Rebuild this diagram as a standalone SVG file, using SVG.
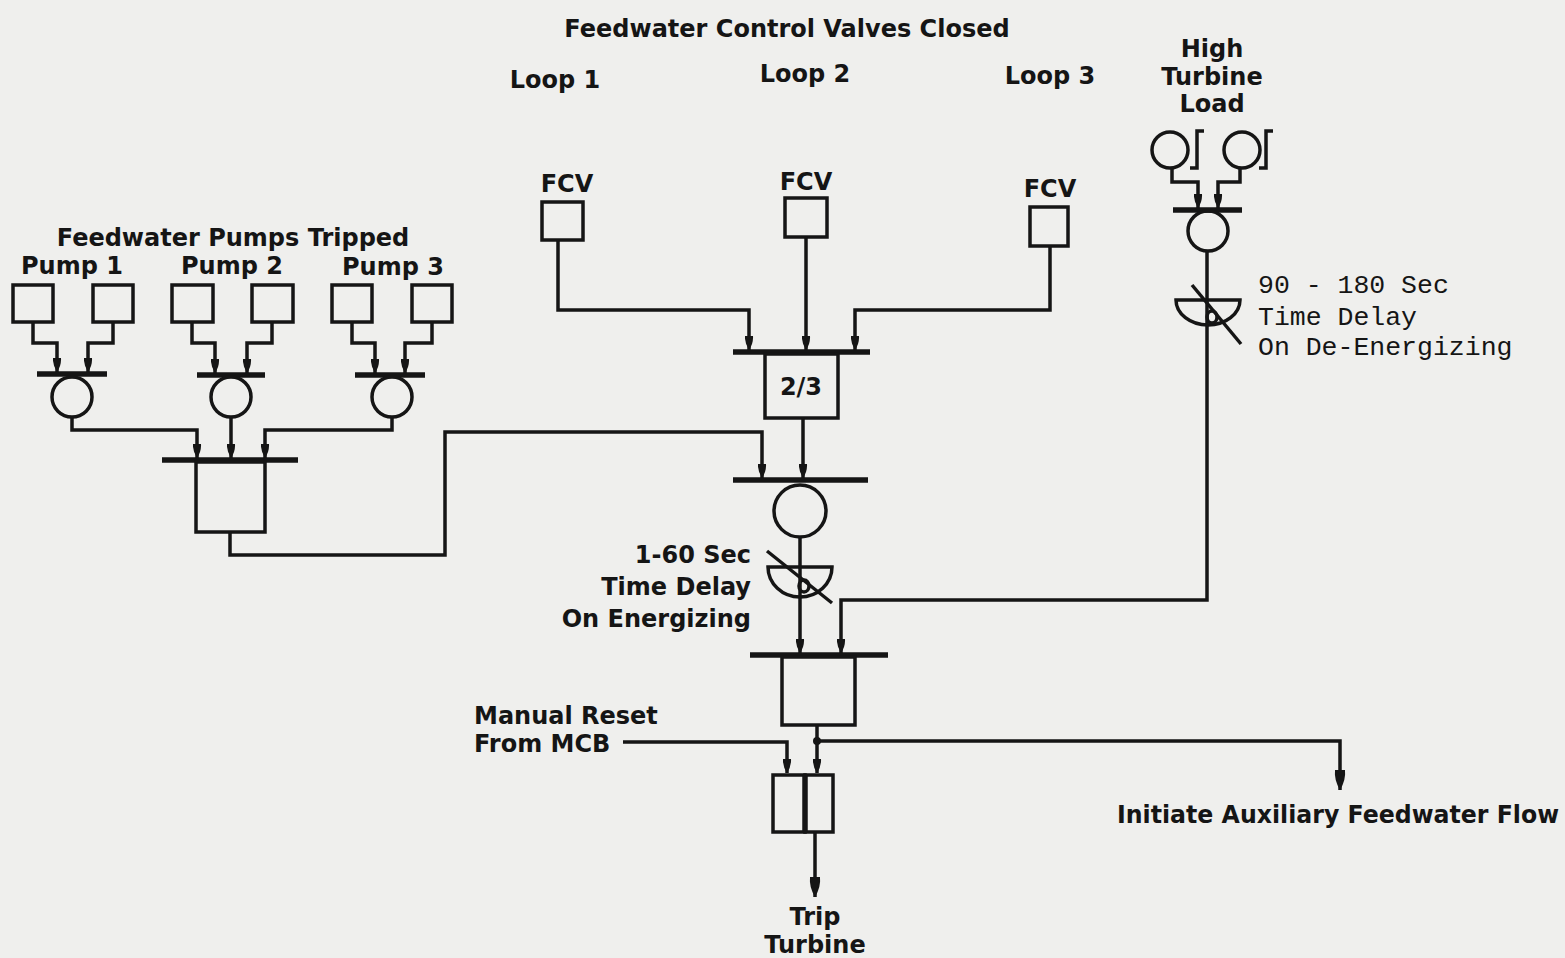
<svg xmlns="http://www.w3.org/2000/svg" width="1565" height="958" viewBox="0 0 1565 958">
<defs>
<style>
.bg{fill:#efefed}
.s{fill:none;stroke:#151515;stroke-width:3.5;stroke-linejoin:miter}
.bar{fill:none;stroke:#151515;stroke-width:5.5}
.w{fill:none;stroke:#151515;stroke-width:3.5}
.t{font-family:"DejaVu Sans",Verdana,sans-serif;font-weight:bold;font-size:24px;fill:#151515}
.m{font-family:"Liberation Mono","DejaVu Sans Mono",monospace;font-size:26.5px;fill:#151515}
.c{text-anchor:middle}
.r{text-anchor:end}
</style>
<marker id="a" viewBox="0 0 14 9" refX="14" refY="4.5" markerWidth="14" markerHeight="9" markerUnits="userSpaceOnUse" orient="auto">
<path d="M0,0.5 Q7,0 14,4.5 Q7,9 0,8.5 z" fill="#151515"/>
</marker>
<marker id="A" viewBox="0 0 20 12" refX="20" refY="6" markerWidth="20" markerHeight="12" markerUnits="userSpaceOnUse" orient="auto">
<path d="M0,1 Q10,0 20,6 Q10,12 0,11 z" fill="#151515"/>
</marker>
</defs>
<rect class="bg" x="0" y="0" width="1565" height="958"/>

<g id="labels">
<text class="t c" x="787" y="37">Feedwater Control Valves Closed</text>
<text class="t c" x="555" y="88">Loop 1</text>
<text class="t c" x="805" y="82">Loop 2</text>
<text class="t c" x="1050" y="84">Loop 3</text>
<text class="t c" x="233" y="246">Feedwater Pumps Tripped</text>
<text class="t c" x="72" y="274">Pump 1</text>
<text class="t c" x="232" y="274">Pump 2</text>
<text class="t c" x="393" y="275">Pump 3</text>
</g>

<g id="pump1">
<rect class="s" x="13" y="285" width="40" height="37"/>
<rect class="s" x="93" y="285" width="40" height="37"/>
<path class="bar" d="M37,374 H107"/>
<circle class="s" cx="72" cy="397" r="20"/>
</g>
<g id="pump2">
<rect class="s" x="172" y="285" width="41" height="37"/>
<rect class="s" x="252" y="285" width="41" height="37"/>
<path class="bar" d="M197,375 H265"/>
<circle class="s" cx="231" cy="397" r="20"/>
</g>
<g id="pump3">
<rect class="s" x="332" y="285" width="40" height="37"/>
<rect class="s" x="412" y="285" width="40" height="37"/>
<path class="bar" d="M355,375 H425"/>
<circle class="s" cx="392" cy="397" r="20"/>
</g>
<g id="pumps-logic">
<path class="bar" d="M162,460 H298"/>
<rect class="s" x="196" y="462" width="69" height="70"/>
</g>

<g id="fcv1">
<text class="t c" x="567" y="192">FCV</text>
<rect class="s" x="542" y="202" width="41" height="38"/>
</g>
<g id="fcv2">
<text class="t c" x="806" y="190">FCV</text>
<rect class="s" x="785" y="198" width="42" height="39"/>
</g>
<g id="fcv3">
<text class="t c" x="1050" y="197">FCV</text>
<rect class="s" x="1030" y="207" width="38" height="39"/>
</g>
<g id="two-of-three">
<path class="bar" d="M733,352 H870"/>
<rect class="s" x="765" y="354" width="73" height="64"/>
<text class="t c" x="801" y="395">2/3</text>
</g>
<g id="and-gate">
<path class="bar" d="M733,480 H868"/>
<circle class="s" cx="800" cy="511" r="26"/>
</g>
<g id="delay-energizing">
<path class="s" d="M768,567 H832 A32,30 0 0 1 768,567 Z"/>
<path class="w" d="M767,551 L832,603"/>
<ellipse class="w" cx="804" cy="586" rx="5" ry="6"/>
<text class="t r" x="751" y="563">1-60 Sec</text>
<text class="t r" x="751" y="595">Time Delay</text>
<text class="t r" x="751" y="627">On Energizing</text>
</g>

<g id="turbine-load">
<text class="t c" x="1212" y="57">High</text>
<text class="t c" x="1212" y="85">Turbine</text>
<text class="t c" x="1212" y="112">Load</text>
<circle class="s" cx="1170" cy="150" r="18"/>
<path class="s" d="M1204,131 H1197 V168 H1190"/>
<circle class="s" cx="1242" cy="150" r="18"/>
<path class="s" d="M1273,131 H1266 V168 H1259"/>
<path class="bar" d="M1173,210 H1242"/>
<circle class="s" cx="1208" cy="231" r="20"/>
</g>
<g id="delay-deenergizing">
<path class="s" d="M1176,300 H1240 A32,25 0 0 1 1176,300 Z"/>
<path class="w" d="M1192,285 L1241,344"/>
<ellipse class="w" cx="1212" cy="317" rx="5" ry="6"/>
<text class="m" x="1258" y="293">90 - 180 Sec</text>
<text class="m" x="1258" y="325">Time Delay</text>
<text class="m" x="1258" y="355">On De-Energizing</text>
</g>

<g id="trip-logic">
<path class="bar" d="M750,655 H888"/>
<rect class="s" x="782" y="657" width="73" height="68"/>
</g>
<g id="manual-reset">
<text class="t" x="474" y="724">Manual Reset</text>
<text class="t" x="474" y="752">From MCB</text>
</g>
<g id="reset-flipflop">
<rect class="s" x="773" y="775" width="32" height="57"/>
<rect class="s" x="805" y="775" width="28" height="57"/>
<path class="bar" d="M805,775 V832"/>
</g>
<g id="trip-turbine">
<text class="t c" x="815" y="925">Trip</text>
<text class="t c" x="815" y="953">Turbine</text>
</g>
<g id="aux-feedwater">
<text class="t" x="1117" y="823" textLength="442" lengthAdjust="spacingAndGlyphs">Initiate Auxiliary Feedwater Flow</text>
</g>

<g id="connectors">
<path class="s" d="M33,322 V343 H57 V372" marker-end="url(#a)"/>
<path class="s" d="M113,322 V343 H88 V372" marker-end="url(#a)"/>
<path class="s" d="M192,322 V343 H215 V373" marker-end="url(#a)"/>
<path class="s" d="M272,322 V343 H247 V373" marker-end="url(#a)"/>
<path class="s" d="M352,322 V343 H375 V373" marker-end="url(#a)"/>
<path class="s" d="M432,322 V343 H405 V373" marker-end="url(#a)"/>
<path class="s" d="M72,417 V430 H197 V458" marker-end="url(#a)"/>
<path class="s" d="M231,417 V458" marker-end="url(#a)"/>
<path class="s" d="M392,417 V430 H265 V458" marker-end="url(#a)"/>
<path class="s" d="M230,532 V555 H445 V432 H762 V478" marker-end="url(#a)"/>
<path class="s" d="M558,240 V310 H749 V350" marker-end="url(#a)"/>
<path class="s" d="M806,237 V350" marker-end="url(#a)"/>
<path class="s" d="M1050,246 V310 H855 V350" marker-end="url(#a)"/>
<path class="s" d="M803,418 V478" marker-end="url(#a)"/>
<path class="s" d="M800,537 V653" marker-end="url(#a)"/>
<path class="s" d="M1172,168 V182 H1198 V208" marker-end="url(#a)"/>
<path class="s" d="M1240,168 V182 H1218 V208" marker-end="url(#a)"/>
<path class="s" d="M1207,251 V600 H841 V653" marker-end="url(#a)"/>
<path class="s" d="M817,725 V773" marker-end="url(#a)"/>
<circle cx="817" cy="741" r="4" fill="#151515"/>
<path class="s" d="M817,741 H1340 V790" marker-end="url(#A)"/>
<path class="s" d="M623,742 H787 V773" marker-end="url(#a)"/>
<path class="s" d="M815,832 V897" marker-end="url(#A)"/>
</g>
</svg>
